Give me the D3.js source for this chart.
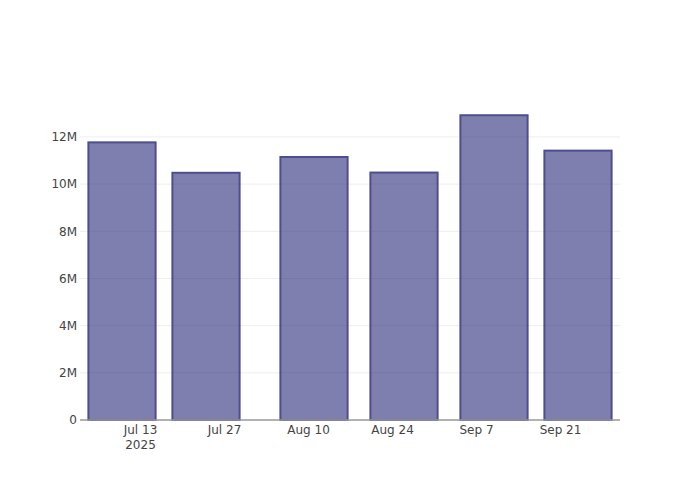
<!DOCTYPE html>
<html>
<head>
<meta charset="utf-8">
<script src="https://cdn.jsdelivr.net/npm/d3@7"></script>
<style>
  html, body { margin: 0; padding: 0; background: #fff; }
  svg text { font-family: "DejaVu Sans", sans-serif; }
</style>
</head>
<body>
<svg id="chart" width="700" height="500"></svg>
<script>
// Data
const dates = ["2025-07-10", "2025-07-24", "2025-08-11", "2025-08-26", "2025-09-10", "2025-09-24"];
const values = [11770000, 10480000, 11150000, 10490000, 12920000, 11420000];
const xTickDates = ["2025-07-13", "2025-07-27", "2025-08-10", "2025-08-24", "2025-09-07", "2025-09-21"];
const yTicks = [0, 2000000, 4000000, 6000000, 8000000, 10000000, 12000000];
const xRange = ["2025-07-03", "2025-10-01"];
const yearLabel = "2025";

const parse = d3.utcParse("%Y-%m-%d");
const W = 700, H = 500;
const m = { l: 80, r: 80, t: 100, b: 80 };
const svg = d3.select("#chart");

const x = d3.scaleUtc()
  .domain(xRange.map(parse))
  .range([m.l, W - m.r]);
const y = d3.scaleLinear()
  .domain([0, d3.max(values) * 1.05])
  .range([H - m.b, m.t]);

const yFmt = v => v === 0 ? "0" : (v / 1e6) + "M";

// Grid
svg.append("g").selectAll("line")
  .data(yTicks.filter(v => v !== 0))
  .join("line")
  .attr("x1", m.l).attr("x2", W - m.r)
  .attr("y1", d => y(d)).attr("y2", d => y(d))
  .attr("stroke", "#eeeeee").attr("stroke-width", 1);

// Bars
const dayMs = 86400000;
const barW = x(new Date(parse(dates[0]).getTime() + 14 * dayMs * 0.8)) - x(parse(dates[0]));
svg.append("g").selectAll("rect")
  .data(dates.map((d, i) => ({ d: parse(d), v: values[i] })))
  .join("rect")
  .attr("x", d => x(d.d) - barW / 2)
  .attr("width", barW)
  .attr("y", d => y(d.v))
  .attr("height", d => y(0) - y(d.v))
  .attr("fill", "rgb(42,42,122)")
  .attr("fill-opacity", 0.6)
  .attr("stroke", "rgb(78,78,140)")
  .attr("stroke-width", 2);

// Y axis (labels only)
const yAxis = d3.axisLeft(y).tickValues(yTicks).tickFormat(yFmt).tickSize(0).tickPadding(2);
const gy = svg.append("g").attr("transform", `translate(${m.l - 1},0)`).call(yAxis);
gy.select(".domain").remove();
gy.selectAll("text").attr("font-size", 12).attr("fill", "#444");

// X axis
const xAxis = d3.axisBottom(x).tickValues(xTickDates.map(parse)).tickSize(0).tickPadding(0)
  .tickFormat(d3.utcFormat("%b %-d"));
const gx = svg.append("g").attr("transform", `translate(0,${H - m.b})`).call(xAxis);
gx.select(".domain").remove();
gx.selectAll("text").attr("font-size", 12).attr("fill", "#444").attr("dy", 0).attr("y", 13.5);
gx.selectAll(".tick").filter((d, i) => i === 0)
  .append("text")
  .attr("y", 28.5)
  .attr("text-anchor", "middle")
  .attr("font-size", 12)
  .attr("fill", "#444")
  .text(yearLabel);

// Baseline
svg.append("line")
  .attr("x1", m.l).attr("x2", W - m.r)
  .attr("y1", y(0)).attr("y2", y(0))
  .attr("stroke", "#999").attr("stroke-width", 1.5);
</script>
</body>
</html>
